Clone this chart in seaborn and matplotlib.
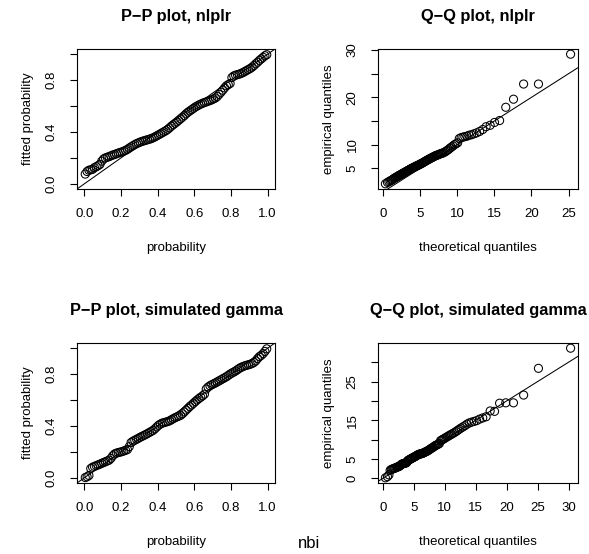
import matplotlib
matplotlib.use("Agg")
import matplotlib.pyplot as plt
import seaborn as sns
import pandas as pd

# ---------------- data ----------------
probability = [
    0.005, 0.015, 0.025, 0.035, 0.045, 0.055, 0.065, 0.075, 0.085, 0.095,
    0.105, 0.115, 0.125, 0.135, 0.145, 0.155, 0.165, 0.175, 0.185, 0.195,
    0.205, 0.215, 0.225, 0.235, 0.245, 0.255, 0.265, 0.275, 0.285, 0.295,
    0.305, 0.315, 0.325, 0.335, 0.345, 0.355, 0.365, 0.375, 0.385, 0.395,
    0.405, 0.415, 0.425, 0.435, 0.445, 0.455, 0.465, 0.475, 0.485, 0.495,
    0.505, 0.515, 0.525, 0.535, 0.545, 0.555, 0.565, 0.575, 0.585, 0.595,
    0.605, 0.615, 0.625, 0.635, 0.645, 0.655, 0.665, 0.675, 0.685, 0.695,
    0.705, 0.715, 0.725, 0.735, 0.745, 0.755, 0.765, 0.775, 0.785, 0.795,
    0.805, 0.815, 0.825, 0.835, 0.845, 0.855, 0.865, 0.875, 0.885, 0.895,
    0.905, 0.915, 0.925, 0.935, 0.945, 0.955, 0.965, 0.975, 0.985, 0.995]

pp_nlplr = [
    0.075, 0.095, 0.105, 0.108, 0.112, 0.125, 0.132, 0.140, 0.150, 0.175,
    0.192, 0.200, 0.205, 0.210, 0.216, 0.222, 0.226, 0.232, 0.237, 0.242,
    0.246, 0.252, 0.258, 0.266, 0.276, 0.285, 0.294, 0.302, 0.310, 0.316,
    0.322, 0.327, 0.332, 0.336, 0.340, 0.344, 0.349, 0.355, 0.362, 0.370,
    0.378, 0.386, 0.394, 0.402, 0.410, 0.420, 0.432, 0.445, 0.456, 0.467,
    0.478, 0.490, 0.502, 0.514, 0.526, 0.540, 0.552, 0.562, 0.572, 0.582,
    0.592, 0.600, 0.608, 0.615, 0.621, 0.627, 0.632, 0.637, 0.642, 0.648,
    0.655, 0.662, 0.674, 0.690, 0.706, 0.722, 0.740, 0.756, 0.765, 0.774,
    0.820, 0.832, 0.838, 0.842, 0.846, 0.852, 0.858, 0.866, 0.874, 0.882,
    0.890, 0.900, 0.912, 0.926, 0.938, 0.952, 0.964, 0.976, 0.988, 0.996]

qq_theo_nlplr = [
    0.35, 0.63, 0.82, 0.99, 1.14, 1.28, 1.40, 1.53, 1.64, 1.75,
    1.87, 1.97, 2.07, 2.18, 2.27, 2.37, 2.47, 2.57, 2.66, 2.76,
    2.85, 2.94, 3.04, 3.13, 3.22, 3.32, 3.41, 3.50, 3.59, 3.69,
    3.78, 3.87, 3.96, 4.06, 4.15, 4.25, 4.34, 4.44, 4.53, 4.63,
    4.73, 4.83, 4.93, 5.03, 5.13, 5.23, 5.33, 5.44, 5.55, 5.65,
    5.76, 5.87, 5.98, 6.10, 6.21, 6.32, 6.44, 6.57, 6.69, 6.81,
    6.94, 7.06, 7.19, 7.33, 7.47, 7.61, 7.76, 7.91, 8.06, 8.21,
    8.37, 8.53, 8.71, 8.88, 9.06, 9.24, 9.44, 9.64, 9.85, 10.07,
    10.29, 10.53, 10.78, 11.04, 11.32, 11.61, 11.92, 12.26, 12.62, 13.02,
    13.44, 13.90, 14.44, 15.03, 15.71, 16.54, 17.58, 18.94, 20.94, 25.26]

qq_emp_nlplr = [
    1.75, 2.05, 2.20, 2.35, 2.50, 2.60, 2.75, 2.90, 3.00, 3.10,
    3.20, 3.30, 3.40, 3.50, 3.55, 3.65, 3.75, 3.85, 3.90, 4.00,
    4.10, 4.15, 4.25, 4.35, 4.40, 4.50, 4.60, 4.65, 4.75, 4.85,
    4.90, 5.00, 5.05, 5.15, 5.20, 5.30, 5.35, 5.45, 5.50, 5.60,
    5.65, 5.75, 5.80, 5.90, 6.00, 6.05, 6.15, 6.25, 6.35, 6.45,
    6.55, 6.65, 6.75, 6.85, 6.95, 7.05, 7.15, 7.25, 7.35, 7.45,
    7.55, 7.65, 7.75, 7.80, 7.90, 8.00, 8.10, 8.15, 8.25, 8.35,
    8.50, 8.65, 8.85, 9.05, 9.30, 9.50, 9.75, 10.00, 10.20, 10.40,
    11.30, 11.50, 11.60, 11.70, 11.80, 12.00, 12.10, 12.30, 12.50, 12.80,
    13.20, 13.80, 14.10, 14.70, 15.10, 17.90, 19.60, 22.80, 22.80, 29.10]

pp_sim = [
    0.002, 0.008, 0.018, 0.072, 0.082, 0.088, 0.094, 0.100, 0.105, 0.112,
    0.118, 0.124, 0.130, 0.136, 0.150, 0.170, 0.184, 0.190, 0.195, 0.198,
    0.202, 0.207, 0.212, 0.218, 0.240, 0.272, 0.282, 0.290, 0.297, 0.305,
    0.313, 0.320, 0.327, 0.334, 0.342, 0.350, 0.358, 0.366, 0.378, 0.392,
    0.405, 0.415, 0.422, 0.426, 0.430, 0.434, 0.440, 0.448, 0.456, 0.464,
    0.470, 0.476, 0.482, 0.494, 0.508, 0.522, 0.536, 0.550, 0.562, 0.575,
    0.588, 0.600, 0.612, 0.622, 0.632, 0.645, 0.685, 0.700, 0.710, 0.718,
    0.725, 0.732, 0.740, 0.748, 0.756, 0.764, 0.772, 0.780, 0.790, 0.800,
    0.808, 0.816, 0.824, 0.834, 0.844, 0.852, 0.858, 0.864, 0.868, 0.872,
    0.876, 0.882, 0.890, 0.902, 0.920, 0.935, 0.945, 0.958, 0.975, 0.995]

qq_theo_sim = [
    0.42, 0.75, 0.99, 1.19, 1.37, 1.53, 1.69, 1.84, 1.97, 2.11,
    2.24, 2.36, 2.48, 2.61, 2.73, 2.85, 2.96, 3.08, 3.19, 3.31,
    3.42, 3.53, 3.64, 3.75, 3.87, 3.98, 4.09, 4.20, 4.31, 4.42,
    4.53, 4.64, 4.76, 4.87, 4.98, 5.10, 5.21, 5.32, 5.44, 5.56,
    5.68, 5.79, 5.91, 6.03, 6.15, 6.28, 6.40, 6.53, 6.65, 6.78,
    6.91, 7.04, 7.18, 7.32, 7.45, 7.59, 7.73, 7.88, 8.03, 8.18,
    8.33, 8.47, 8.63, 8.80, 8.97, 9.13, 9.31, 9.49, 9.67, 9.86,
    10.04, 10.24, 10.45, 10.66, 10.87, 11.09, 11.33, 11.57, 11.82, 12.08,
    12.35, 12.63, 12.94, 13.25, 13.58, 13.94, 14.30, 14.72, 15.14, 15.62,
    16.13, 16.67, 17.33, 18.04, 18.85, 19.85, 21.09, 22.73, 25.12, 30.31]

qq_emp_sim = [
    0.15, 0.45, 0.90, 2.10, 2.30, 2.40, 2.50, 2.60, 2.65, 2.75,
    2.85, 2.95, 3.00, 3.10, 3.20, 3.35, 3.55, 3.70, 3.75, 3.80,
    3.85, 3.90, 3.95, 4.00, 4.10, 4.50, 4.65, 4.75, 4.85, 4.95,
    5.05, 5.15, 5.25, 5.35, 5.45, 5.55, 5.65, 5.75, 5.85, 6.00,
    6.10, 6.20, 6.25, 6.30, 6.35, 6.40, 6.45, 6.55, 6.65, 6.75,
    6.85, 6.95, 7.05, 7.20, 7.35, 7.50, 7.65, 7.80, 7.95, 8.10,
    8.30, 8.45, 8.60, 8.70, 8.85, 9.00, 9.70, 9.90, 10.05, 10.20,
    10.40, 10.60, 10.80, 11.00, 11.20, 11.40, 11.60, 11.85, 12.10, 12.40,
    12.70, 13.00, 13.30, 13.60, 14.00, 14.30, 14.50, 14.70, 14.90, 15.30,
    15.60, 15.90, 17.40, 17.30, 19.40, 19.50, 19.50, 21.50, 28.40, 33.60]

titles = ["P\u2212P plot, nlplr", "Q\u2212Q plot, nlplr",
          "P\u2212P plot, simulated gamma", "Q\u2212Q plot, simulated gamma"]
xlabels = ["probability", "theoretical quantiles", "probability", "theoretical quantiles"]
ylabels = ["fitted probability", "empirical quantiles", "fitted probability", "empirical quantiles"]

pp_xticks = [0.0, 0.2, 0.4, 0.6, 0.8, 1.0]
pp_xticklabels = ["0.0", "0.2", "0.4", "0.6", "0.8", "1.0"]
pp_yticks = [0.0, 0.2, 0.4, 0.6, 0.8, 1.0]
pp_yticklabels = ["0.0", "", "0.4", "", "0.8", ""]
qq1_xticks = [0, 5, 10, 15, 20, 25]
qq1_xticklabels = ["0", "5", "10", "15", "20", "25"]
qq1_yticks = [5, 10, 15, 20, 25, 30]
qq1_yticklabels = ["5", "10", "", "20", "", "30"]
qq2_xticks = [0, 5, 10, 15, 20, 25, 30]
qq2_xticklabels = ["0", "5", "10", "15", "20", "25", "30"]
qq2_yticks = [0, 5, 10, 15, 20, 25, 30]
qq2_yticklabels = ["0", "5", "", "15", "", "25", ""]

footer = "nbi"

# ---------------- style ----------------
sns.set_theme(style="white")
plt.rcParams["font.family"] = ["Liberation Sans", "DejaVu Sans"]
plt.rcParams["text.color"] = "black"
plt.rcParams["axes.labelcolor"] = "black"
plt.rcParams["axes.titlecolor"] = "black"
plt.rcParams["xtick.color"] = "black"
plt.rcParams["ytick.color"] = "black"
plt.rcParams["axes.edgecolor"] = "black"
plt.rcParams["axes.linewidth"] = 0.8

W, H = 589, 554
fig = plt.figure(figsize=(W / 100, H / 100), dpi=100)

def rect(x0, y0, x1, y1):
    return [x0 / W, 1 - y1 / H, (x1 - x0) / W, (y1 - y0) / H]

boxes = [rect(77, 49, 275, 189), rect(378, 49, 578, 189),
         rect(77, 343, 275, 483), rect(378, 343, 578, 483)]

def rlim(v):
    lo, hi = min(v), max(v)
    r = hi - lo
    return (lo - 0.04 * r, hi + 0.04 * r)

panels = [
    (probability, pp_nlplr, (-0.04, 1.04), (-0.04, 1.04),
     pp_xticks, pp_xticklabels, pp_yticks, pp_yticklabels),
    (qq_theo_nlplr, qq_emp_nlplr, rlim(qq_theo_nlplr), rlim(qq_emp_nlplr),
     qq1_xticks, qq1_xticklabels, qq1_yticks, qq1_yticklabels),
    (probability, pp_sim, (-0.04, 1.04), (-0.04, 1.04),
     pp_xticks, pp_xticklabels, pp_yticks, pp_yticklabels),
    (qq_theo_sim, qq_emp_sim, rlim(qq_theo_sim), rlim(qq_emp_sim),
     qq2_xticks, qq2_xticklabels, qq2_yticks, qq2_yticklabels),
]

for i, (box, pan) in enumerate(zip(boxes, panels)):
    x, y, xl, yl, xt, xtl, yt, ytl = pan
    ax = fig.add_axes(box)
    df = pd.DataFrame({"x": x, "y": y})
    sns.scatterplot(data=df, x="x", y="y", ax=ax, s=34, marker="o",
                    linewidth=0.75, legend=False)
    coll = ax.collections[-1]
    coll.set_facecolor("none")
    coll.set_edgecolor("black")
    ax.axline((0, 0), slope=1, color="black", lw=0.75, zorder=3)
    ax.set_xlim(*xl)
    ax.set_ylim(*yl)
    ax.set_xticks(xt)
    ax.set_xticklabels(xtl)
    ax.set_yticks(yt)
    ax.set_yticklabels(ytl)
    ax.tick_params(axis="both", direction="out", length=5, width=0.8,
                   color="black", labelsize=9.5, labelcolor="black")
    ax.tick_params(axis="x", pad=9, bottom=True)
    ax.tick_params(axis="y", pad=9, left=True, labelrotation=90)
    for lab in ax.get_yticklabels():
        lab.set_verticalalignment("center")
    for s in ax.spines.values():
        s.set_visible(True)
        s.set_color("black")
        s.set_linewidth(0.8)
    ax.set_facecolor("white")
    ax.set_title(titles[i], fontsize=11.8, fontweight="bold", pad=20, color="black")
    ax.set_xlabel(xlabels[i], fontsize=9.5, color="black")
    ax.set_ylabel(ylabels[i], fontsize=9.5, color="black")
    bw = box[2] * W
    bh = box[3] * H
    ax.xaxis.set_label_coords(0.5, -(248 - 189) / bh)
    ax.xaxis.label.set_verticalalignment("center")
    ax.yaxis.set_label_coords(-49 / bw, 0.5)
    ax.yaxis.label.set_verticalalignment("center")

fig.text(298 / W, 1 - 548 / H, footer, fontsize=12, ha="left", va="baseline", color="black")

fig.savefig("out.png", dpi=100, facecolor="white")
